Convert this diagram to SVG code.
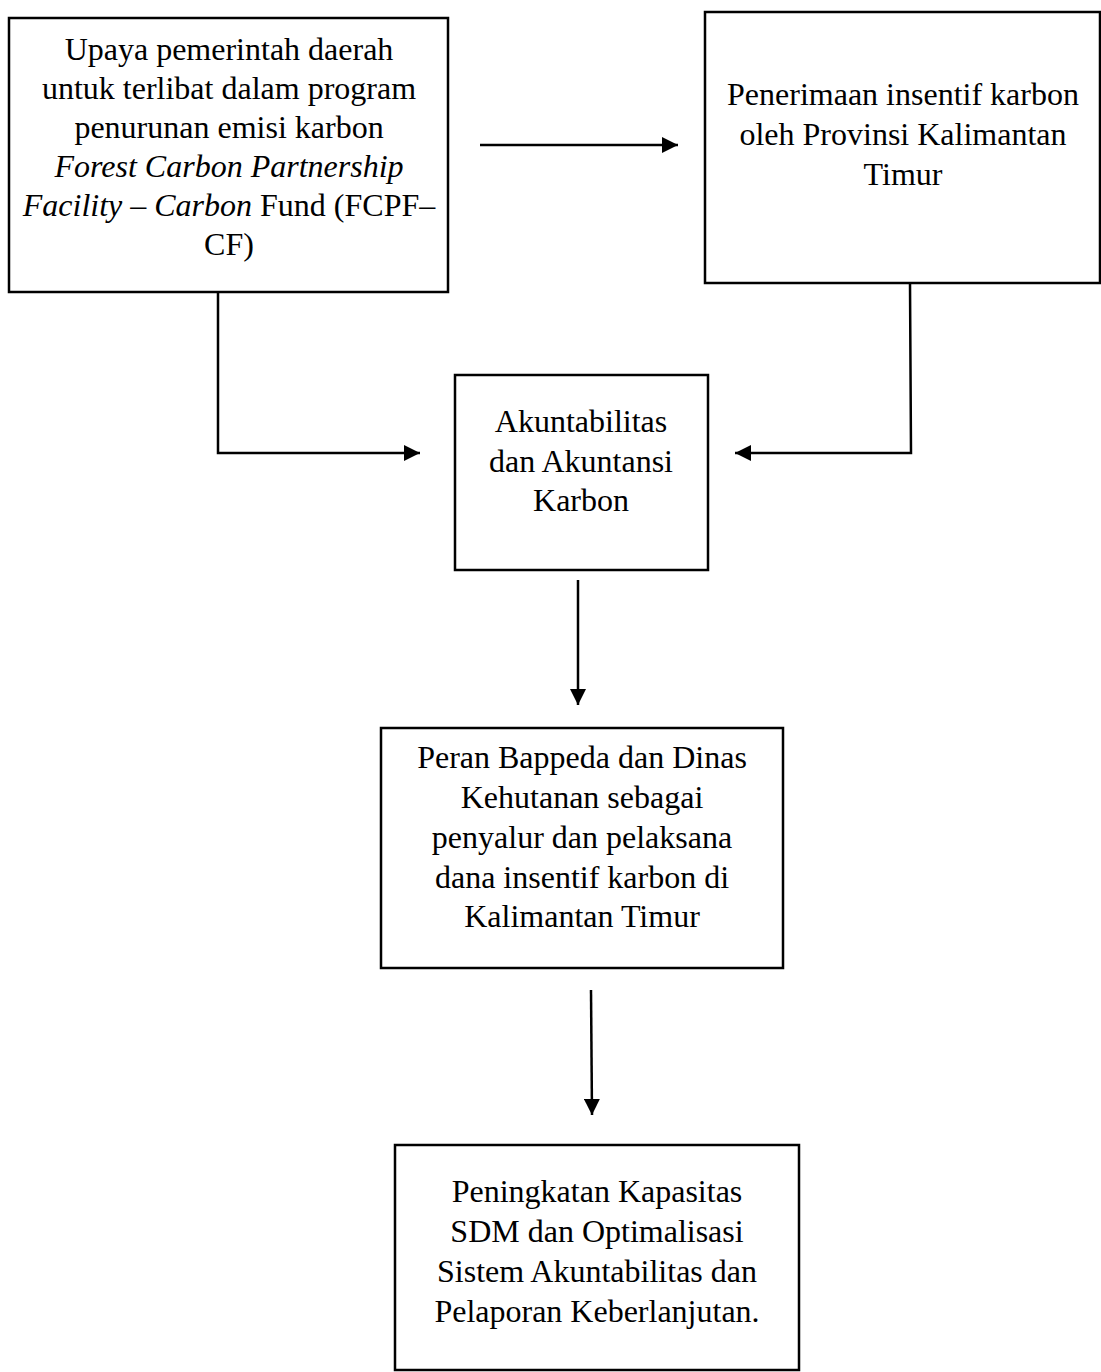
<svg xmlns="http://www.w3.org/2000/svg" width="1101" height="1372" viewBox="0 0 1101 1372">
<style>
.box{fill:#fff;stroke:#000;stroke-width:2.5}
.t{font-family:"Liberation Serif","Times New Roman",serif;font-size:32px;fill:#000;text-anchor:middle}
.i{font-style:italic}
.c{fill:none;stroke:#000;stroke-width:2.5}
</style>
<defs>
<marker id="ah" markerUnits="userSpaceOnUse" markerWidth="18" markerHeight="16" refX="16" refY="8" orient="auto">
<path d="M0,0 L16,8 L0,16 Z" fill="#000"/>
</marker>
</defs>
<rect width="1101" height="1372" fill="#fff"/>
<g id="n1">
<rect class="box" x="9" y="18" width="439" height="274"/>
<text class="t" x="229" y="60">Upaya pemerintah daerah</text>
<text class="t" x="229" y="99">untuk terlibat dalam program</text>
<text class="t" x="229" y="138">penurunan emisi karbon</text>
<text class="t i" x="229" y="177">Forest Carbon Partnership</text>
<text class="t" x="229" y="216"><tspan class="i">Facility – Carbon</tspan> Fund (FCPF–</text>
<text class="t" x="229" y="255">CF)</text>
</g>
<g id="n2">
<rect class="box" x="705" y="12" width="395" height="271"/>
<text class="t" x="903" y="105">Penerimaan insentif karbon</text>
<text class="t" x="903" y="145">oleh Provinsi Kalimantan</text>
<text class="t" x="903" y="185">Timur</text>
</g>
<g id="n3">
<rect class="box" x="455" y="375" width="253" height="195"/>
<text class="t" x="581" y="432">Akuntabilitas</text>
<text class="t" x="581" y="472">dan Akuntansi</text>
<text class="t" x="581" y="511">Karbon</text>
</g>
<g id="n4">
<rect class="box" x="381" y="728" width="402" height="240"/>
<text class="t" x="582" y="768">Peran Bappeda dan Dinas</text>
<text class="t" x="582" y="808">Kehutanan sebagai</text>
<text class="t" x="582" y="848">penyalur dan pelaksana</text>
<text class="t" x="582" y="888">dana insentif karbon di</text>
<text class="t" x="582" y="927">Kalimantan Timur</text>
</g>
<g id="n5">
<rect class="box" x="395" y="1145" width="404" height="225"/>
<text class="t" x="597" y="1202">Peningkatan Kapasitas</text>
<text class="t" x="597" y="1242">SDM dan Optimalisasi</text>
<text class="t" x="597" y="1282">Sistem Akuntabilitas dan</text>
<text class="t" x="597" y="1322">Pelaporan Keberlanjutan.</text>
</g>
<g id="connectors">
<line class="c" x1="480" y1="145" x2="678" y2="145" marker-end="url(#ah)"/>
<polyline class="c" points="218,292 218,453 420,453" marker-end="url(#ah)"/>
<polyline class="c" points="910,283 911,453 735,453" marker-end="url(#ah)"/>
<line class="c" x1="578" y1="580" x2="578" y2="705" marker-end="url(#ah)"/>
<line class="c" x1="591" y1="990" x2="592" y2="1115" marker-end="url(#ah)"/>
</g>
</svg>
